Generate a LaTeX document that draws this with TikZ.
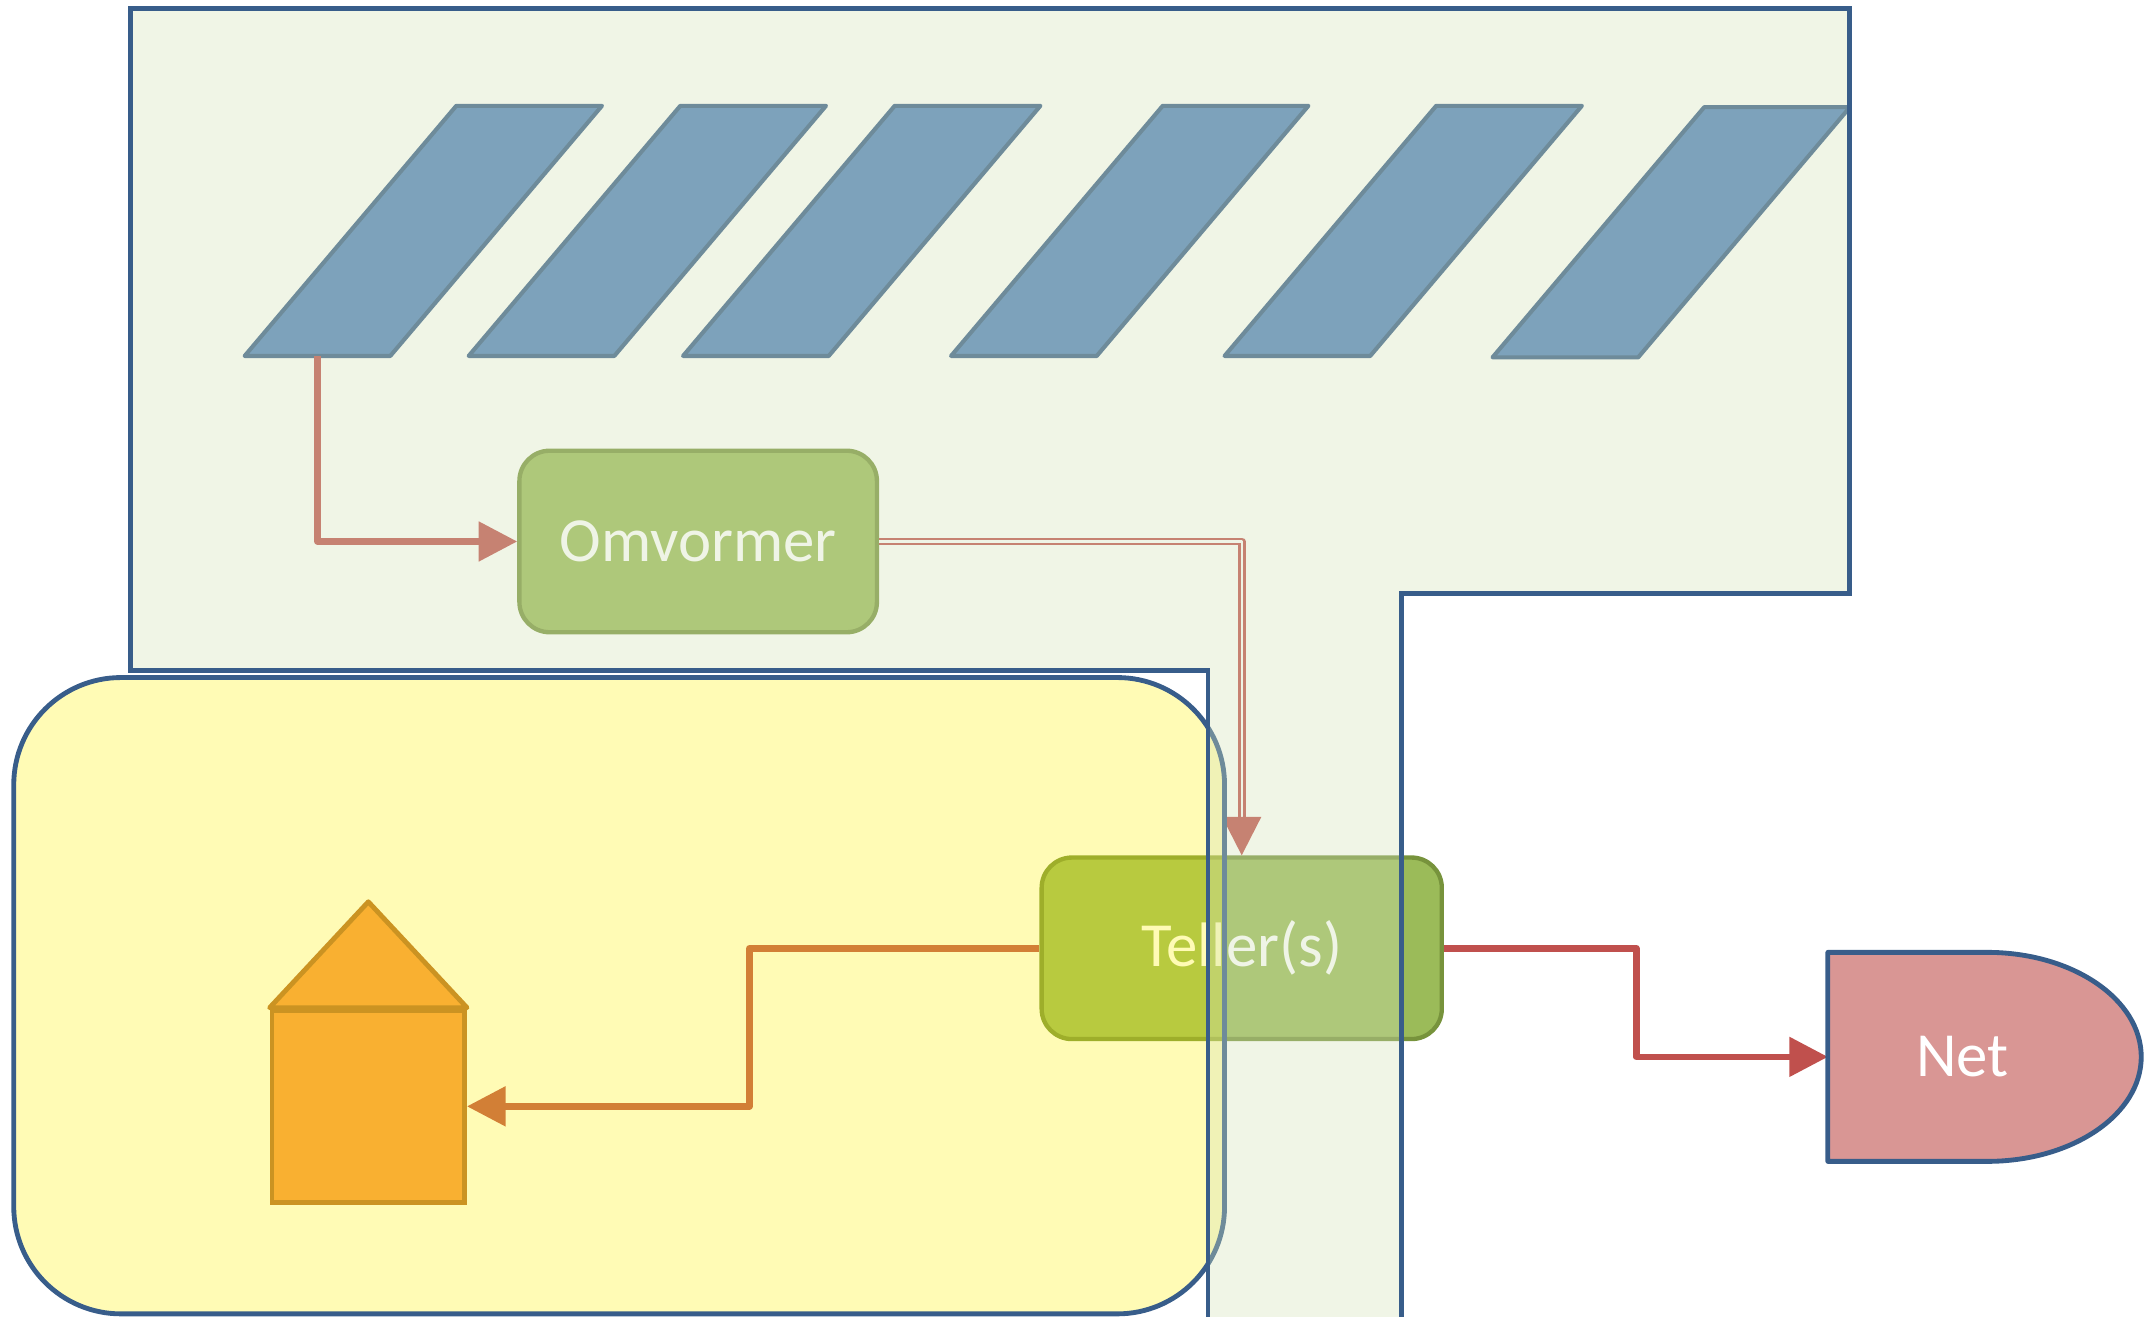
\documentclass[tikz,border=0pt]{standalone}
\usepackage{fontspec}
\setmainfont{Carlito}
\usetikzlibrary{arrows.meta}
\definecolor{pblue}{HTML}{4F81BD}
\definecolor{bblue}{HTML}{385D8A}
\definecolor{ogreen}{HTML}{9BBB59}
\definecolor{ogreendk}{HTML}{77933C}
\definecolor{cred}{HTML}{C0504D}
\definecolor{horange}{HTML}{F79646}
\definecolor{horangedk}{HTML}{B66D31}
\definecolor{netfill}{HTML}{D99694}
\definecolor{zonefill}{HTML}{D4E2B8}
\tikzset{
  panel/.style={fill=pblue, draw=bblue, line width=0.85pt, line join=round},
  greenbox/.style={rectangle, rounded corners=0.22cm, minimum height=1.32cm,
    inner sep=0pt, fill=ogreen, draw=ogreendk, line width=0.9pt,
    text=white, font=\fontsize{13}{15}\selectfont},
  conn/.style={draw=cred, line width=1.35pt, line join=round,
    -{Triangle[length=0.28cm,width=0.28cm]}},
  dconn/.style={draw=cred, line width=0.6pt, double=white, double distance=0.45pt,
    line join=round, -{Triangle[length=0.28cm,width=0.28cm]}},
  housebox/.style={rectangle, minimum width=1.40cm, minimum height=1.40cm,
    inner sep=0pt, fill=horange, draw=horangedk, line width=1pt},
  netbox/.style={rectangle, minimum width=2.28cm, minimum height=1.52cm,
    inner sep=0pt, outer sep=0pt, text=white, font=\fontsize{13}{15}\selectfont},
  homezone/.style={fill=yellow, fill opacity=0.29, draw=bblue, line width=1pt,
    rounded corners=0.78cm},
  pvzone/.style={fill=zonefill, fill opacity=0.35, draw=bblue, line width=1pt,
    line join=miter}
}
\begin{document}
\begin{tikzpicture}[x=0.01cm, y=-0.01cm]
\useasboundingbox (0,0) rectangle (1568,958);

% solar panels
\foreach \px/\py in {178/259, 341/259, 497/259, 692/259, 891/259, 1086/260}{
  \draw[panel] (\px,\py) -- ++(106,0) -- ++(154,-182) -- ++(-106,0) -- cycle;
}
\coordinate (p1) at (231,259);

% nodes
\node[greenbox, minimum width=2.60cm] (omv) at (508,394) {Omvormer};
\node[greenbox, minimum width=2.91cm] (teller) at (903.5,690) {Teller(s)};
\node[housebox] (house) at (268,805) {};
\draw[fill=horange, draw=horangedk, line width=1pt, line join=round]
  (house.north west) -- ([yshift=0.77cm]house.north) -- (house.north east) -- cycle;

% connectors
\draw[conn] (p1) |- (omv.west);
\draw[dconn] (omv.east) -| (teller.north);
\draw[conn] (teller.west) -- ++(-211,0) |- (house.east);
\draw[conn] (teller.east) -- ++(140,0) |- (1330,769) coordinate (netin);

% home zone
\draw[homezone] (10,493) rectangle (891,956);

% Net
\node[netbox] (net) at (1444,769) {};
\fill[netfill] (net.north west) -- ++(116,0)
  arc[start angle=90, end angle=-90, x radius=1.12cm, y radius=0.76cm]
  -- (net.south west) -- cycle;
\draw[bblue, line width=1pt, line join=round] (net.north west) -- ++(116,0)
  arc[start angle=90, end angle=-90, x radius=1.12cm, y radius=0.76cm]
  -- (net.south west) -- cycle;
\node[netbox, minimum width=0pt, minimum height=0pt] (nettext) at (1428,769) {Net};

% PV zone
\draw[pvzone] (95,6) -- (1346,6) -- (1346,432) -- (1020,432) -- (1020,962)
  -- (879,962) -- (879,488) -- (95,488) -- cycle;
\end{tikzpicture}
\end{document}
